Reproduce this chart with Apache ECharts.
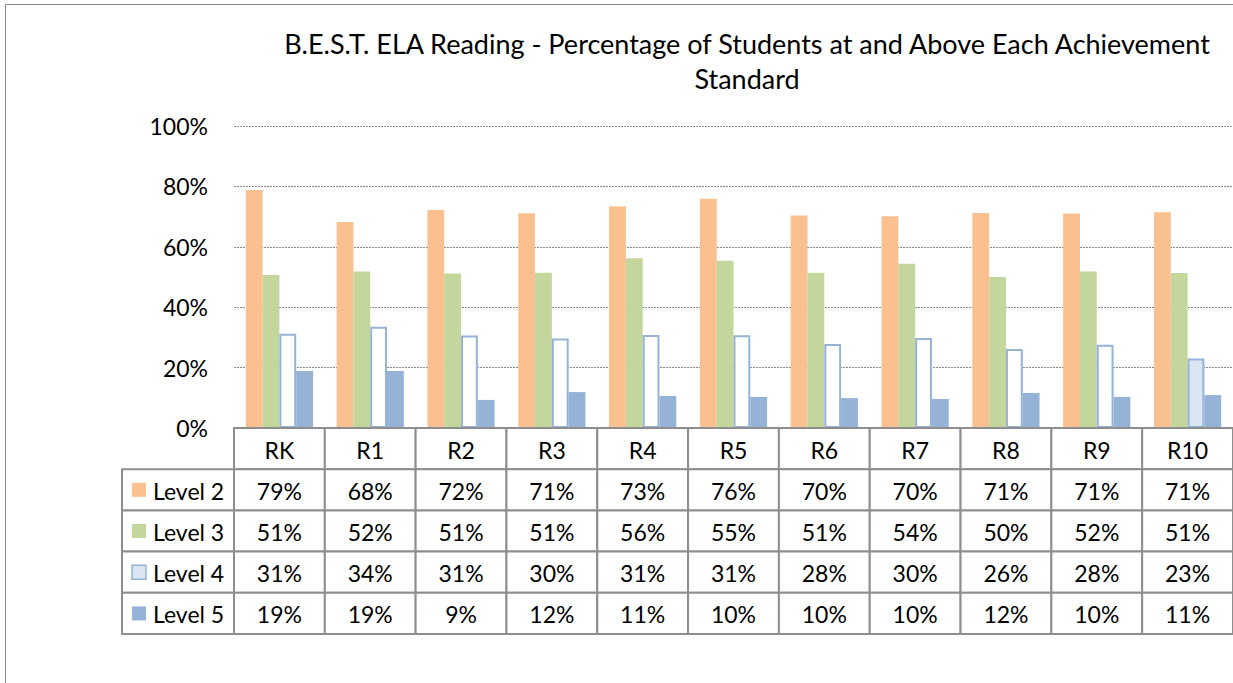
<!DOCTYPE html>
<html>
<head>
<meta charset="utf-8">
<script src="https://cdn.jsdelivr.net/npm/echarts@6/dist/echarts.min.js"></script>
<style>
html,body{margin:0;padding:0;background:#fff;}
#chart{width:1233px;height:683px;}
</style>
</head>
<body>
<div id="chart"></div>
<script>
const titleText = 'B.E.S.T. ELA Reading - Percentage of Students at and Above Each Achievement\nStandard';
const categories = ['RK','R1','R2','R3','R4','R5','R6','R7','R8','R9','R10'];
const seriesNames = ['Level 2','Level 3','Level 4','Level 5'];
const level2 = [78.8, 68.2, 72.2, 71.1, 73.4, 75.9, 70.4, 70.1, 71.2, 71.0, 71.4];
const level3 = [50.7, 51.8, 51.2, 51.4, 56.2, 55.4, 51.4, 54.4, 50.0, 51.8, 51.3];
const level4 = [31.2, 33.5, 30.6, 29.6, 30.8, 30.7, 27.8, 29.8, 26.2, 27.6, 23.0];
const level5 = [18.9, 18.9, 9.3, 11.9, 10.6, 10.3, 9.9, 9.6, 11.6, 10.3, 10.9];
const yTicks = [0, 20, 40, 60, 80, 100];

const FONT = 'Lato';
const values = [level2, level3, level4, level5];
const colors = ['#FAC090', '#C3D69B', '#FFFFFF', '#95B3D7'];
const L4_BORDER = '#95B3D7';
const L4_FILL_LAST = '#DCE6F2';
const TABLE_LINE = '#8E8E8E';

const chart = echarts.init(document.getElementById('chart'), null, {renderer: 'svg'});

const tableCells = [];
for (let c = 0; c < categories.length; c++) {
  for (let r = 0; r <= seriesNames.length; r++) tableCells.push([c, r]);
}

function renderCell(params, api) {
  const c = api.value(0), r = api.value(1);
  const p = api.coord([c, r]);
  const s = api.size([1, 1]);
  const x = p[0] - s[0] / 2, y = p[1] - s[1] / 2, w = s[0], h = s[1];
  const children = [{
    type: 'rect',
    shape: {x: x, y: y, width: w, height: h},
    style: {fill: '#fff', stroke: TABLE_LINE, lineWidth: 2}
  }, {
    type: 'text',
    style: {
      x: p[0], y: p[1] + 1,
      text: r === 0 ? categories[c] : Math.round(values[r - 1][c]) + '%',
      fill: '#000', font: '23px ' + FONT, align: 'center', verticalAlign: 'middle'
    }
  }];
  if (c === 0 && r > 0) {
    const lw = 112;
    const lx = x - lw;
    children.push({
      type: 'rect',
      shape: {x: lx, y: y, width: lw, height: h},
      style: {fill: '#fff', stroke: TABLE_LINE, lineWidth: 2}
    });
    const isL4 = r === 3;
    children.push({
      type: 'rect',
      shape: {x: lx + 10, y: p[1] - 7, width: 14, height: 14},
      style: isL4 ? {fill: L4_FILL_LAST, stroke: L4_BORDER, lineWidth: 1.5} : {fill: colors[r - 1]}
    });
    children.push({
      type: 'text',
      style: {
        x: lx + 31, y: p[1] + 1, text: seriesNames[r - 1],
        fill: '#000', font: '23px ' + FONT, align: 'left', verticalAlign: 'middle'
      }
    });
  }
  return {type: 'group', children: children};
}

const barSeries = seriesNames.map((name, i) => ({
  name: name,
  type: 'bar',
  xAxisIndex: 0, yAxisIndex: 0,
  barGap: '0%',
  barCategoryGap: '26%',
  data: values[i].map((v, j) => {
    if (i === 2) {
      return {value: v, itemStyle: {color: j === categories.length - 1 ? L4_FILL_LAST : '#FFFFFF', borderColor: L4_BORDER, borderWidth: 2}};
    }
    return v;
  }),
  itemStyle: {color: colors[i]},
  emphasis: {disabled: true},
  silent: true
}));

chart.setOption({
  animation: false,
  backgroundColor: '#fff',
  textStyle: {fontFamily: FONT},
  title: {
    text: titleText,
    left: 742, top: 21,
    textAlign: 'center',
    textStyle: {fontFamily: FONT, fontSize: 27, fontWeight: 'normal', color: '#000', lineHeight: 35}
  },
  graphic: [{
    type: 'rect',
    shape: {x: 5.5, y: 4.5, width: 1400, height: 900},
    style: {fill: 'none', stroke: '#888', lineWidth: 1},
    silent: true, z: 100
  }],
  grid: [
    {left: 234, top: 126, width: 1002, height: 302},
    {left: 234, top: 428, width: 1002, height: 206}
  ],
  xAxis: [
    {type: 'category', gridIndex: 0, data: categories, axisLine: {show: false}, axisTick: {show: false}, axisLabel: {show: false}},
    {type: 'category', gridIndex: 1, data: categories, show: false}
  ],
  yAxis: [
    {type: 'value', gridIndex: 0, min: yTicks[0], max: yTicks[yTicks.length - 1], interval: 20,
     axisLine: {show: false}, axisTick: {show: false},
     axisLabel: {formatter: '{value}%', fontFamily: FONT, fontSize: 23, color: '#000', margin: 26},
     splitLine: {lineStyle: {color: '#8A8A8A', width: 1, type: [2, 1]}}},
    {type: 'category', gridIndex: 1, data: [''].concat(seriesNames), inverse: true, show: false}
  ],
  series: barSeries.concat([{
    type: 'custom',
    xAxisIndex: 1, yAxisIndex: 1,
    renderItem: renderCell,
    data: tableCells,
    encode: {x: 0, y: 1},
    clip: false,
    silent: true,
    z: 5
  }])
});
</script>
</body>
</html>
